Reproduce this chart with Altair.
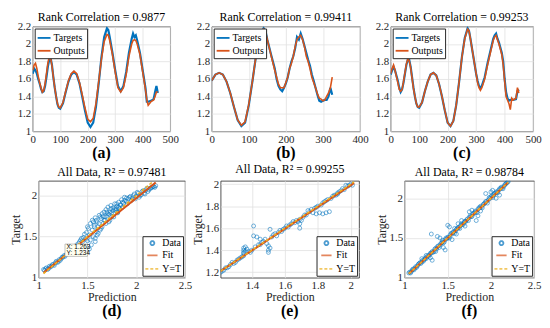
import altair as alt
import pandas as pd

FONT = "Liberation Serif"
BLUE = "#0072BD"
ORANGE = "#D95319"
YELLOW = "#EDB120"

# ---------------- top row: time series ----------------
a_x = [0, 5, 10, 15, 20, 25, 30, 35, 40, 45, 50, 55, 60, 65, 70, 75, 80, 85, 90, 95, 100,
       110, 120, 130, 140, 150, 160, 170, 180, 190, 200, 210, 220, 230, 240, 250, 260, 270,
       275, 280, 290, 300, 310, 320, 330, 340, 350, 360, 365, 370, 375, 380, 390, 400, 410,
       415, 420, 430, 440, 445, 450, 455]
a_targets = [1.66, 1.72, 1.70, 1.66, 1.60, 1.55, 1.49, 1.45, 1.46, 1.52, 1.62, 1.74, 1.82, 1.84,
             1.76, 1.62, 1.50, 1.40, 1.31, 1.27, 1.26, 1.32, 1.45, 1.57, 1.65, 1.68, 1.65, 1.55,
             1.40, 1.24, 1.10, 1.05, 1.10, 1.28, 1.55, 1.85, 2.08, 2.18, 2.16, 2.08, 1.90, 1.70,
             1.52, 1.46, 1.52, 1.68, 1.90, 2.06, 2.12, 2.08, 2.10, 2.04, 1.90, 1.70, 1.50, 1.34,
             1.34, 1.35, 1.37, 1.45, 1.52, 1.44]
a_outputs = [1.70, 1.76, 1.78, 1.72, 1.63, 1.56, 1.50, 1.45, 1.47, 1.55, 1.66, 1.78, 1.85, 1.84,
             1.75, 1.62, 1.50, 1.40, 1.32, 1.28, 1.27, 1.33, 1.46, 1.58, 1.66, 1.69, 1.66, 1.56,
             1.42, 1.27, 1.14, 1.11, 1.15, 1.32, 1.57, 1.83, 2.03, 2.11, 2.10, 2.04, 1.88, 1.68,
             1.50, 1.45, 1.50, 1.65, 1.86, 2.00, 2.04, 2.05, 2.04, 2.00, 1.88, 1.68, 1.48, 1.36,
             1.30, 1.34, 1.36, 1.40, 1.45, 1.45]

b_x = [0, 10, 20, 30, 40, 50, 60, 70, 80, 90, 100, 110, 120, 130, 140, 145, 150, 160, 170,
       175, 180, 185, 190, 195, 200, 205, 210, 215, 220, 225, 230, 235, 240, 245, 250, 255,
       260, 265, 270, 275, 280, 285, 290, 295, 300, 305, 310, 315, 320, 325]
b_targets = [1.58, 1.65, 1.67, 1.65, 1.57, 1.44, 1.28, 1.13, 1.06, 1.10, 1.30, 1.58, 1.88, 2.08,
             2.18, 2.15, 2.05, 1.88, 1.72, 1.60, 1.52, 1.48, 1.46, 1.50, 1.55, 1.62, 1.72, 1.80,
             1.86, 1.95, 2.08, 2.05, 2.12, 2.06, 1.98, 1.90, 1.82, 1.75, 1.65, 1.58, 1.50, 1.42,
             1.35, 1.34, 1.35, 1.36, 1.36, 1.40, 1.50, 1.42]
b_outputs = [1.58, 1.65, 1.67, 1.65, 1.57, 1.44, 1.28, 1.13, 1.07, 1.11, 1.31, 1.58, 1.88, 2.08,
             2.17, 2.14, 2.05, 1.87, 1.70, 1.62, 1.54, 1.50, 1.50, 1.50, 1.56, 1.62, 1.72, 1.78,
             1.86, 1.97, 2.05, 2.08, 2.10, 2.05, 1.97, 1.86, 1.80, 1.72, 1.62, 1.56, 1.50, 1.43,
             1.38, 1.37, 1.35, 1.36, 1.40, 1.44, 1.50, 1.62]

c_x = [0, 5, 10, 15, 20, 25, 30, 35, 40, 45, 50, 55, 60, 65, 70, 75, 80, 85, 90, 95, 100,
       110, 120, 130, 140, 150, 160, 170, 180, 190, 200, 210, 220, 230, 240, 250, 260, 270,
       275, 280, 290, 300, 305, 310, 315, 320, 330, 340, 350, 360, 365, 370, 375, 380, 390,
       395, 400, 405, 410, 415, 420, 425, 430, 440, 445, 450]
c_targets = [1.65, 1.70, 1.74, 1.70, 1.64, 1.58, 1.50, 1.45, 1.48, 1.56, 1.66, 1.76, 1.82, 1.82,
             1.74, 1.62, 1.50, 1.40, 1.32, 1.28, 1.27, 1.33, 1.46, 1.57, 1.65, 1.67, 1.64, 1.54,
             1.40, 1.24, 1.10, 1.06, 1.12, 1.30, 1.56, 1.85, 2.07, 2.18, 2.15, 2.06, 1.86, 1.66,
             1.58, 1.52, 1.50, 1.52, 1.62, 1.78, 1.92, 2.06, 2.10, 2.12, 2.06, 2.02, 1.90, 1.80,
             1.60, 1.45, 1.38, 1.35, 1.36, 1.36, 1.36, 1.37, 1.46, 1.48]
c_outputs = [1.66, 1.72, 1.76, 1.70, 1.63, 1.56, 1.48, 1.46, 1.48, 1.57, 1.67, 1.77, 1.83, 1.81,
             1.73, 1.61, 1.49, 1.40, 1.32, 1.28, 1.28, 1.33, 1.46, 1.57, 1.65, 1.67, 1.64, 1.54,
             1.40, 1.24, 1.10, 1.06, 1.12, 1.30, 1.56, 1.85, 2.06, 2.17, 2.15, 2.06, 1.86, 1.66,
             1.56, 1.50, 1.47, 1.50, 1.60, 1.76, 1.90, 2.04, 2.08, 2.10, 2.05, 2.00, 1.88, 1.76,
             1.58, 1.40, 1.36, 1.32, 1.25, 1.38, 1.36, 1.38, 1.50, 1.44]

top_titles = ["Rank Correlation = 0.9877", "Rank Correlation = 0.99411", "Rank Correlation = 0.99253"]
top_labels = ["(a)", "(b)", "(c)"]
y_ticks_top = [1, 1.2, 1.4, 1.6, 1.8, 2, 2.2]

# ---------------- bottom row: regression ----------------
d_points = [(1.05, 1.10), (1.06, 1.09), (1.08, 1.12), (1.10, 1.11), (1.11, 1.14), (1.13, 1.14),
            (1.15, 1.16), (1.17, 1.18), (1.19, 1.19), (1.21, 1.22), (1.23, 1.23), (1.25, 1.25),
            (1.27, 1.26), (1.29, 1.29), (1.31, 1.30), (1.33, 1.34), (1.35, 1.33), (1.37, 1.38),
            (1.39, 1.40), (1.41, 1.42), (1.43, 1.46), (1.45, 1.44), (1.46, 1.49), (1.48, 1.47),
            (1.49, 1.55), (1.50, 1.45), (1.51, 1.60), (1.52, 1.52), (1.53, 1.66), (1.54, 1.40),
            (1.55, 1.58), (1.55, 1.70), (1.56, 1.50), (1.57, 1.64), (1.58, 1.73), (1.58, 1.44),
            (1.59, 1.56), (1.60, 1.68), (1.61, 1.62), (1.62, 1.76), (1.63, 1.58), (1.64, 1.72),
            (1.65, 1.78), (1.66, 1.66), (1.67, 1.80), (1.68, 1.70), (1.69, 1.83), (1.70, 1.75),
            (1.71, 1.86), (1.72, 1.68), (1.73, 1.80), (1.74, 1.88), (1.75, 1.74), (1.76, 1.85),
            (1.77, 1.78), (1.78, 1.90), (1.79, 1.82), (1.80, 1.87), (1.81, 1.79), (1.82, 1.92),
            (1.83, 1.84), (1.84, 1.89), (1.85, 1.95), (1.86, 1.86), (1.87, 1.91), (1.88, 1.98),
            (1.90, 1.93), (1.92, 1.96), (1.94, 1.99), (1.96, 1.97), (1.98, 2.02), (2.00, 1.99),
            (2.02, 2.03), (2.04, 2.00), (2.06, 2.05), (2.08, 2.03), (2.10, 2.07), (2.12, 2.05),
            (2.14, 2.09), (2.16, 2.10), (2.18, 2.11), (2.20, 2.12), (1.52, 1.35), (1.57, 1.62),
            (1.60, 1.52), (1.64, 1.60), (1.68, 1.74), (1.72, 1.77), (1.76, 1.82), (1.80, 1.84),
            (1.84, 1.88), (1.95, 1.94), (2.05, 2.01), (2.15, 2.09), (1.44, 1.48), (1.38, 1.36),
            (1.07, 1.11), (1.09, 1.10), (1.12, 1.13), (1.14, 1.16), (1.16, 1.15), (1.18, 1.20),
            (1.20, 1.19), (1.22, 1.21), (1.24, 1.25), (1.26, 1.27), (1.28, 1.28), (1.30, 1.32),
            (1.32, 1.31), (1.34, 1.36), (1.36, 1.35), (1.40, 1.38), (1.42, 1.44), (1.47, 1.53),
            (1.50, 1.62), (1.53, 1.46), (1.56, 1.68), (1.59, 1.70), (1.62, 1.66), (1.63, 1.74),
            (1.66, 1.75), (1.67, 1.70), (1.70, 1.80), (1.71, 1.78), (1.74, 1.84), (1.75, 1.79),
            (1.78, 1.84), (1.80, 1.90), (1.82, 1.86), (1.86, 1.92), (1.88, 1.94), (1.90, 1.97),
            (1.91, 1.90), (1.93, 1.98), (1.97, 2.00), (1.99, 1.96), (2.01, 2.04), (2.03, 1.98),
            (2.07, 2.06), (2.09, 2.02), (2.11, 2.09), (2.13, 2.07), (2.17, 2.11), (2.19, 2.10),
            (1.58, 1.48), (1.61, 1.54), (1.65, 1.62), (1.69, 1.66), (1.73, 1.70), (1.77, 1.74),
            (1.81, 1.80)]
e_points = [(1.21, 1.20), (1.23, 1.22), (1.25, 1.24), (1.27, 1.27), (1.29, 1.28), (1.31, 1.31),
            (1.33, 1.33), (1.35, 1.35), (1.35, 1.37), (1.35, 1.38), (1.35, 1.40), (1.35, 1.42),
            (1.36, 1.43), (1.36, 1.39), (1.37, 1.41), (1.39, 1.38), (1.40, 1.40), (1.41, 1.62),
            (1.41, 1.53), (1.43, 1.52), (1.45, 1.50), (1.47, 1.48), (1.49, 1.46), (1.50, 1.44),
            (1.51, 1.42), (1.50, 1.40), (1.50, 1.38), (1.51, 1.59), (1.52, 1.52), (1.54, 1.55),
            (1.56, 1.56), (1.58, 1.57), (1.60, 1.60), (1.62, 1.61), (1.64, 1.64), (1.66, 1.65),
            (1.68, 1.66), (1.69, 1.64), (1.69, 1.60), (1.70, 1.67), (1.71, 1.70), (1.73, 1.72),
            (1.75, 1.75), (1.77, 1.74), (1.79, 1.73), (1.81, 1.74), (1.83, 1.73), (1.85, 1.74),
            (1.87, 1.75), (1.78, 1.78), (1.80, 1.80), (1.82, 1.81), (1.84, 1.84), (1.86, 1.86),
            (1.88, 1.87), (1.90, 1.90), (1.92, 1.92), (1.94, 1.94), (1.96, 1.95), (1.98, 1.98),
            (2.00, 2.00), (2.01, 1.99), (1.45, 1.45), (1.42, 1.43), (1.30, 1.29), (1.55, 1.53),
            (1.65, 1.66), (1.74, 1.76), (1.48, 1.50), (1.69, 1.68), (1.92, 1.91), (1.97, 1.99),
            (1.22, 1.21), (1.24, 1.24), (1.26, 1.25), (1.28, 1.29), (1.32, 1.32), (1.34, 1.34),
            (1.38, 1.39), (1.44, 1.45), (1.46, 1.47), (1.53, 1.54), (1.57, 1.58), (1.59, 1.59),
            (1.61, 1.62), (1.63, 1.63), (1.67, 1.67), (1.72, 1.72), (1.76, 1.77), (1.79, 1.79),
            (1.83, 1.83), (1.85, 1.85), (1.89, 1.89), (1.91, 1.90), (1.93, 1.93), (1.95, 1.96),
            (1.99, 1.99)]
f_points = [(1.05, 1.06), (1.07, 1.06), (1.09, 1.10), (1.11, 1.10), (1.13, 1.14), (1.15, 1.15),
            (1.17, 1.18), (1.19, 1.18), (1.21, 1.22), (1.23, 1.23), (1.25, 1.24), (1.27, 1.28),
            (1.29, 1.29), (1.31, 1.31), (1.33, 1.32), (1.35, 1.36), (1.37, 1.36), (1.39, 1.40),
            (1.41, 1.41), (1.43, 1.44), (1.45, 1.44), (1.47, 1.48), (1.49, 1.49), (1.51, 1.51),
            (1.53, 1.54), (1.55, 1.55), (1.57, 1.58), (1.59, 1.59), (1.61, 1.62), (1.63, 1.63),
            (1.65, 1.66), (1.67, 1.67), (1.69, 1.70), (1.71, 1.71), (1.73, 1.74), (1.75, 1.76),
            (1.77, 1.77), (1.79, 1.80), (1.81, 1.82), (1.83, 1.83), (1.85, 1.86), (1.87, 1.88),
            (1.89, 1.89), (1.91, 1.92), (1.93, 1.94), (1.95, 1.96), (1.97, 1.98), (1.99, 2.00),
            (2.01, 2.03), (2.03, 2.04), (2.05, 2.06), (2.07, 2.08), (2.09, 2.10), (2.11, 2.12),
            (2.13, 2.13), (2.15, 2.15), (2.17, 2.18), (2.19, 2.20), (2.20, 2.21),
            (1.31, 1.55), (1.41, 1.50), (1.38, 1.52), (1.50, 1.66), (1.52, 1.64), (1.47, 1.35),
            (1.45, 1.38), (1.30, 1.25), (1.32, 1.22), (1.55, 1.48), (1.60, 1.55), (1.62, 1.68),
            (1.66, 1.72), (1.70, 1.65), (1.75, 1.83), (1.78, 1.85), (1.83, 1.72), (1.85, 1.78),
            (1.88, 1.84), (1.94, 2.06), (2.00, 2.08), (2.02, 2.10), (2.06, 2.00), (2.10, 2.04),
            (1.25, 1.28), (1.20, 1.24), (1.58, 1.62), (1.44, 1.47), (1.36, 1.33),
            (1.06, 1.07), (1.08, 1.08), (1.10, 1.11), (1.12, 1.12), (1.14, 1.13), (1.16, 1.17),
            (1.18, 1.19), (1.20, 1.20), (1.22, 1.21), (1.24, 1.25), (1.26, 1.26), (1.28, 1.27),
            (1.30, 1.31), (1.32, 1.33), (1.34, 1.33), (1.36, 1.37), (1.38, 1.39), (1.40, 1.38),
            (1.42, 1.43), (1.44, 1.45), (1.46, 1.45), (1.48, 1.50), (1.50, 1.51), (1.52, 1.50),
            (1.54, 1.56), (1.56, 1.57), (1.58, 1.56), (1.60, 1.61), (1.62, 1.63), (1.64, 1.62),
            (1.66, 1.68), (1.68, 1.67), (1.70, 1.71), (1.72, 1.73), (1.74, 1.72), (1.76, 1.78),
            (1.78, 1.77), (1.80, 1.81), (1.82, 1.84), (1.84, 1.82), (1.86, 1.88), (1.88, 1.90),
            (1.90, 1.88), (1.92, 1.93), (1.94, 1.96), (1.96, 1.94), (1.98, 2.01), (2.00, 2.02),
            (2.02, 2.01), (2.04, 2.06), (2.06, 2.08), (2.08, 2.07), (2.10, 2.12), (2.12, 2.14),
            (2.14, 2.12), (2.16, 2.17), (2.18, 2.19)]

d_fit = [(1.05, 1.06), (2.20, 2.16)]
e_fit = [(1.21, 1.21), (2.02, 2.01)]
f_fit = [(1.05, 1.05), (2.20, 2.20)]
d_yt = [(1.05, 1.05), (2.17, 2.17)]
e_yt = [(1.21, 1.21), (2.02, 2.02)]
f_yt = [(1.05, 1.05), (2.20, 2.20)]

bottom_titles = ["All Data, R² = 0.97481", "All Data, R² = 0.99255", "All Data, R² = 0.98784"]
bottom_labels = ["(d)", "(e)", "(f)"]

# data tip in (d)
tip_box = [(1.27, 1.26, 1.50, 1.41)]
tip_text = [(1.285, 1.37, "X: 1.263"), (1.285, 1.30, "Y: 1.234")]

W_A, W_B, W_C, H1 = 139, 150, 144, 106
W_D, W_E, W_F, H2 = 148, 140, 131, 98


def line_panel(x, t, o, title, xmax, xticks, w, label):
    n = len(x)
    df = pd.DataFrame({"x": x + x, "y": t + o, "series": ["Targets"] * n + ["Outputs"] * n})
    color = alt.Color("series:N",
                      scale=alt.Scale(domain=["Targets", "Outputs"], range=[BLUE, ORANGE]),
                      legend=alt.Legend(title=None, orient="top-left", symbolType="stroke",
                                        symbolSize=170))
    base = alt.Chart(df).encode(
        x=alt.X("x:Q", scale=alt.Scale(domain=[0, xmax], nice=False),
                axis=alt.Axis(values=xticks, title=None, format="d")),
        y=alt.Y("y:Q", scale=alt.Scale(domain=[1, 2.2], nice=False, zero=False),
                axis=alt.Axis(values=y_ticks_top, format=".1~f", title=None)),
        color=color,
    )
    tl = base.transform_filter("datum.series == 'Targets'").mark_line(strokeWidth=2.2, clip=True)
    ol = base.transform_filter("datum.series == 'Outputs'").mark_line(strokeWidth=1.6, clip=True)
    lab = alt.Chart(pd.DataFrame({"t": [label]})).mark_text(
        font=FONT, fontSize=16, fontWeight="bold", baseline="middle"
    ).encode(text="t:N", x=alt.value(w / 2), y=alt.value(H1 + 22))
    return alt.layer(tl, ol, lab).properties(
        width=w, height=H1, title=alt.TitleParams(title, offset=-3))


def scatter_panel(pts, fit, yt, title, xdom, xticks, ydom, yticks, w, label, tip=False):
    dom = ["Data", "Fit", "Y=T"]
    leg = alt.Legend(title=None, orient="bottom-right")
    color = alt.Color("s:N", scale=alt.Scale(domain=dom, range=[BLUE, ORANGE, YELLOW]), legend=leg)
    shape = alt.Shape("s:N", scale=alt.Scale(domain=dom, range=["circle", "stroke", "stroke"]), legend=leg)
    size = alt.Size("s:N", scale=alt.Scale(domain=dom, range=[16, 200, 200]), legend=leg)
    dash = alt.StrokeDash("s:N", scale=alt.Scale(domain=dom, range=[[1, 0], [1, 0], [3, 2]]), legend=leg)
    xenc = alt.X("x:Q", scale=alt.Scale(domain=xdom, nice=False, zero=False),
                 axis=alt.Axis(values=xticks, format=".1~f", title="Prediction"))
    yenc = alt.Y("y:Q", scale=alt.Scale(domain=ydom, nice=False, zero=False),
                 axis=alt.Axis(values=yticks, format=".1~f", title="Target"))
    pdf = pd.DataFrame({"x": [p[0] for p in pts], "y": [p[1] for p in pts], "s": "Data"})
    fdf = pd.DataFrame({"x": [p[0] for p in fit], "y": [p[1] for p in fit], "s": "Fit"})
    ydf = pd.DataFrame({"x": [p[0] for p in yt], "y": [p[1] for p in yt], "s": "Y=T"})
    pl = alt.Chart(pdf).mark_point(filled=False, strokeWidth=0.8, clip=True).encode(
        x=xenc, y=yenc, color=color, shape=shape, size=size)
    fl = alt.Chart(fdf).mark_line(strokeWidth=2, clip=True).encode(
        x=xenc, y=yenc, color=color, strokeDash=dash)
    yl = alt.Chart(ydf).mark_line(strokeWidth=1.5, clip=True).encode(
        x=xenc, y=yenc, color=color, strokeDash=dash)
    layers = [pl, fl, yl]
    if tip:
        bdf = pd.DataFrame([{"x": b[0], "y": b[1], "x2": b[2], "y2": b[3]} for b in tip_box])
        tdf = pd.DataFrame([{"x": t[0], "y": t[1], "t": t[2]} for t in tip_text])
        layers.append(alt.Chart(bdf).mark_rect(fill="#fffff0", stroke="#999999", strokeWidth=0.6).encode(
            x="x:Q", y="y:Q", x2="x2", y2="y2"))
        layers.append(alt.Chart(tdf).mark_text(font="Liberation Sans", fontSize=6.5, align="left",
                                               baseline="middle", color="black").encode(
            x="x:Q", y="y:Q", text="t:N"))
    lab = alt.Chart(pd.DataFrame({"t": [label]})).mark_text(
        font=FONT, fontSize=16, fontWeight="bold", baseline="middle"
    ).encode(text="t:N", x=alt.value(w / 2), y=alt.value(H2 + 34))
    layers.append(lab)
    return alt.layer(*layers).properties(
        width=w, height=H2, title=alt.TitleParams(title, offset=2))


def spacer(w, h):
    return alt.Chart(pd.DataFrame({"v": [0]})).mark_point(opacity=0).encode(
        x=alt.X("v:Q", axis=None), y=alt.Y("v:Q", axis=None)
    ).properties(width=w, height=h, view=alt.ViewBackground(stroke="transparent"))


def res(c):
    return c.resolve_scale(color="independent", shape="independent", strokeDash="independent",
                           size="independent") \
            .resolve_legend(color="independent", shape="independent", strokeDash="independent",
                            size="independent")


pa = line_panel(a_x, a_targets, a_outputs, top_titles[0], 500, [0, 100, 200, 300, 400, 500], W_A, top_labels[0])
pb = line_panel(b_x, b_targets, b_outputs, top_titles[1], 400, [0, 100, 200, 300, 400], W_B, top_labels[1])
pc = line_panel(c_x, c_targets, c_outputs, top_titles[2], 500, [0, 100, 200, 300, 400, 500], W_C, top_labels[2])

pd_ = scatter_panel(d_points, d_fit, d_yt, bottom_titles[0], [1, 2.5], [1, 1.5, 2, 2.5], [1, 2.18], [1, 1.5, 2],
                    W_D, bottom_labels[0], tip=True)
pe = scatter_panel(e_points, e_fit, e_yt, bottom_titles[1], [1.21, 2.05], [1.4, 1.6, 1.8, 2], [1.15, 2.03],
                   [1.2, 1.4, 1.6, 1.8, 2], W_E, bottom_labels[1])
pf = scatter_panel(f_points, f_fit, f_yt, bottom_titles[2], [1, 2.5], [1, 1.5, 2, 2.5], [1, 2.22], [1, 1.5, 2],
                   W_F, bottom_labels[2])

top = res(alt.hconcat(pa, spacer(42, H1), pb, spacer(31, H1), pc, spacing=0, bounds="flush"))
bottom = res(alt.hconcat(spacer(6, H2), pd_, spacer(36, H2), pe, spacer(46, H2), pf,
                         spacing=0, bounds="flush"))

chart = res(alt.vconcat(top, bottom, spacing=0)).properties(
    padding={"left": 0, "top": 0, "right": 0, "bottom": 0}
).configure(
    font=FONT
).configure_view(
    stroke="#262626", strokeWidth=0.8
).configure_axis(
    labelFont=FONT, labelFontSize=11, labelColor="#262626", labelFlush=False,
    titleFont=FONT, titleFontSize=12, titleFontWeight="normal", titleColor="#262626",
    domain=False, ticks=False, gridColor="#e0e0e0", gridWidth=0.8, labelPadding=2, titlePadding=1
).configure_title(
    font=FONT, fontSize=12, fontWeight="normal", color="black"
).configure_legend(
    labelFont=FONT, labelFontSize=10, labelColor="black", strokeColor="#262626", fillColor="white",
    padding=2, symbolStrokeWidth=1.8, rowPadding=0, labelOffset=2, symbolSize=150, offset=2
)

chart.save("out.html", embed_options={"renderer": "svg", "actions": False})
